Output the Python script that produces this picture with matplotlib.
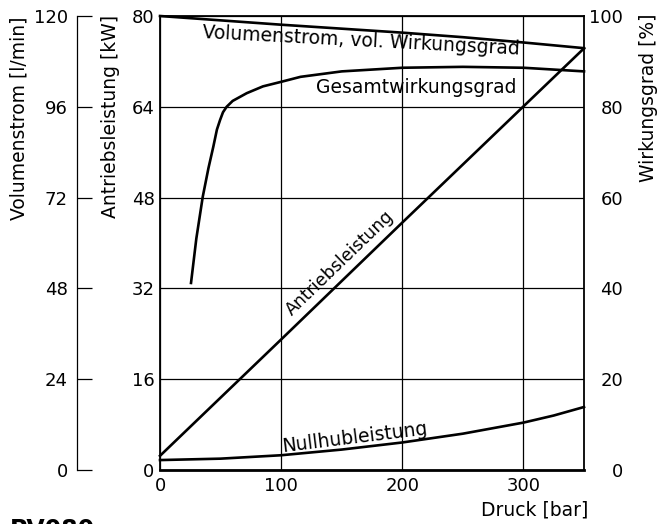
import numpy as np
import matplotlib.pyplot as plt

# Kennlinien
druck_vol = [0, 100, 200, 250, 300, 350]
volumenstrom = [120, 117.7, 115.6, 114.4, 113.0, 111.5]          # l/min

druck_eta = [25.6, 30, 35.3, 40, 44, 47, 49.6, 52, 55, 60, 71.6, 85, 100, 116, 150, 200, 250, 300, 350]
gesamtwirkungsgrad = [41.2, 51, 60.2, 66.5, 71.2, 75, 77.1, 78.8, 80.0, 81.3, 83.0, 84.5,
                      85.5, 86.6, 87.8, 88.6, 88.8, 88.6, 87.8]       # %

druck_p = [0, 100, 200, 350]
antriebsleistung = [2.5, 23.0, 43.6, 74.3]                        # kW

druck_null = [0, 50, 100, 150, 200, 250, 300, 325, 350]
nullhubleistung = [1.75, 2.0, 2.6, 3.6, 4.85, 6.4, 8.35, 9.6, 11.1]  # kW

x_ticks = [0, 100, 200, 300]
kw_ticks = [0, 16, 32, 48, 64, 80]
vol_ticks = [0, 24, 48, 72, 96, 120]
eta_ticks = [0, 20, 40, 60, 80, 100]

fs = 13
lw = 1.9

fig = plt.figure(figsize=(6.58, 5.24), dpi=100)
ax = fig.add_axes([160 / 658, 54 / 524, 424 / 658, 454 / 524])

# Hauptachse: Leistung in kW
ax.set_xlim(0, 350)
ax.set_ylim(0, 80)
ax.set_xticks(x_ticks)
ax.set_yticks(kw_ticks)
ax.grid(True, color='black', lw=0.9)
ax.tick_params(length=0, labelsize=fs)
ax.tick_params(axis='x', pad=5)
ax.tick_params(axis='y', pad=4)
for s in ax.spines.values():
    s.set_linewidth(1.3)
ax.spines['bottom'].set_linewidth(2)

ax.plot(druck_p, antriebsleistung, color='black', lw=lw, clip_on=False)
ax.plot(druck_null, nullhubleistung, color='black', lw=lw, clip_on=False)

# Äußere linke Achse: Volumenstrom
ax_vol = ax.twinx()
ax_vol.set_ylim(0, 120)
ax_vol.set_yticks(vol_ticks)
ax_vol.yaxis.set_ticks_position('left')
ax_vol.spines['left'].set_position(('axes', -83 / 424))
ax_vol.spines['left'].set_linewidth(0.9)
for side in ['right', 'top', 'bottom']:
    ax_vol.spines[side].set_visible(False)
ax_vol.tick_params(axis='y', direction='in', length=10.8, width=0.9, pad=6.5, labelsize=fs)
ax_vol.plot(druck_vol, volumenstrom, color='black', lw=lw, clip_on=False)

# Rechte Achse: Wirkungsgrad
ax_eta = ax.twinx()
ax_eta.set_ylim(0, 100)
ax_eta.set_yticks(eta_ticks)
for s in ax_eta.spines.values():
    s.set_visible(False)
ax_eta.tick_params(axis='y', length=0, pad=28, labelsize=fs)
plt.setp(ax_eta.get_yticklabels(), ha='right')
ax_eta.plot(druck_eta, gesamtwirkungsgrad, color='black', lw=lw, clip_on=False)

# Beschriftungen an den Kurven
ax.text(34.7, 76.1, 'Volumenstrom, vol. Wirkungsgrad', fontsize=13.5, rotation=-3,
        rotation_mode='anchor', ha='left', va='baseline')
ax_eta.text(129, 83.0, 'Gesamtwirkungsgrad', fontsize=13.5, ha='left', va='baseline')
ax.text(109, 27.2, 'Antriebsleistung', fontsize=12.5, rotation=44,
        rotation_mode='anchor', ha='left', va='baseline')
ax.text(101, 3.2, 'Nullhubleistung', fontsize=13.5, rotation=7,
        rotation_mode='anchor', ha='left', va='baseline')

# Achsentitel
fig.text(19 / 658, 1 - 16 / 524, 'Volumenstrom [l/min]', rotation=90, ha='center', va='top', fontsize=13.5)
fig.text(111 / 658, 1 - 15 / 524, 'Antriebsleistung [kW]', rotation=90, ha='center', va='top', fontsize=13.5)
fig.text(648 / 658, 1 - 13 / 524, 'Wirkungsgrad [%]', rotation=90, ha='center', va='top', fontsize=13.5)
fig.text(535 / 658, 1 - 510 / 524, 'Druck [bar]', ha='center', va='center', fontsize=13.5)
# Typenbezeichnung, im Original am unteren Rand angeschnitten
fig.text(10 / 658, 1 - 518 / 524, 'PV080', ha='left', va='top', fontsize=17, fontweight='bold')

fig.savefig('out.png', dpi=100)
